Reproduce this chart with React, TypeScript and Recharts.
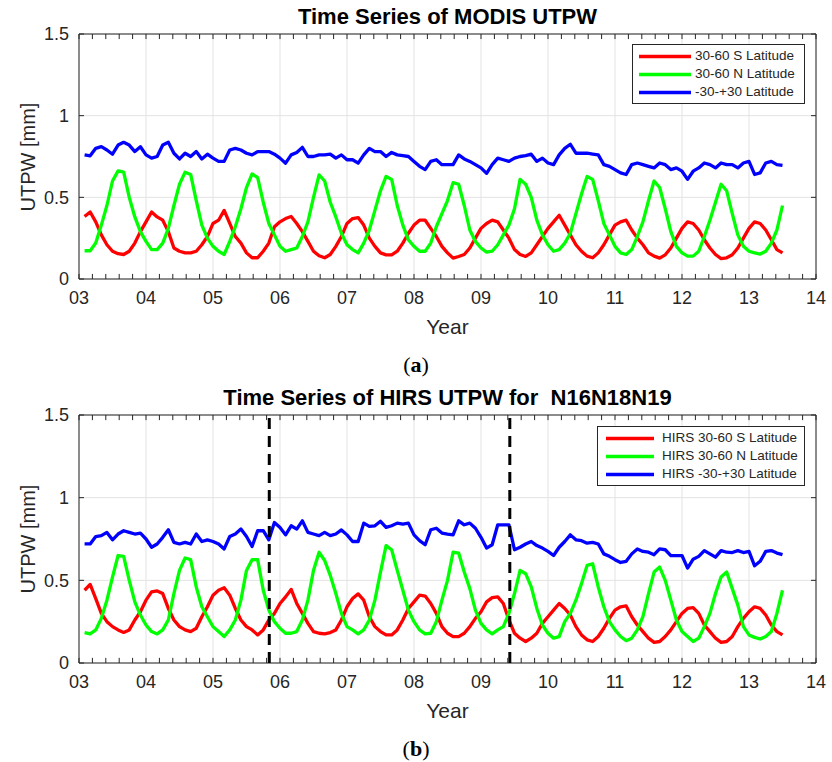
import React from "react";
import { LineChart, Line, XAxis, YAxis, CartesianGrid, ReferenceLine, ReferenceArea } from "recharts";

// monthly means, Feb 2003 .. Jul 2013
const months = Array.from({ length: 126 }, (_, i) => 3 + (i + 1) / 12);
const yearTicks = [3, 4, 5, 6, 7, 8, 9, 10, 11, 12, 13, 14];
const yearLabels = ["03", "04", "05", "06", "07", "08", "09", "10", "11", "12", "13", "14"];
const minorTicks = Array.from({ length: 56 }, (_, i) => 3 + i / 5);
const utpwTicks = [0, 0.5, 1, 1.5];

const modisSouth = [
  0.383, 0.41, 0.35, 0.27, 0.21, 0.17, 0.155, 0.15, 0.17, 0.22, 0.29, 0.35,
  0.41, 0.38, 0.36, 0.29, 0.19, 0.17, 0.16, 0.16, 0.17, 0.21, 0.26, 0.34,
  0.36, 0.42, 0.34, 0.26, 0.22, 0.16, 0.13, 0.13, 0.17, 0.22, 0.32, 0.35,
  0.37, 0.383, 0.34, 0.29, 0.23, 0.17, 0.142, 0.13, 0.15, 0.2, 0.26, 0.34,
  0.37, 0.376, 0.33, 0.25, 0.2, 0.16, 0.148, 0.148, 0.17, 0.22, 0.28, 0.33,
  0.36, 0.36, 0.31, 0.26, 0.2, 0.16, 0.128, 0.138, 0.15, 0.19, 0.25, 0.31,
  0.34, 0.36, 0.35, 0.3, 0.25, 0.18, 0.15, 0.138, 0.16, 0.21, 0.26, 0.31,
  0.35, 0.39, 0.33, 0.27, 0.21, 0.17, 0.14, 0.13, 0.16, 0.21, 0.27, 0.33,
  0.35, 0.36, 0.3, 0.25, 0.21, 0.16, 0.14, 0.128, 0.148, 0.19, 0.25, 0.31,
  0.35, 0.34, 0.3, 0.24, 0.19, 0.15, 0.125, 0.13, 0.148, 0.19, 0.25, 0.31,
  0.35, 0.34, 0.3, 0.24, 0.18, 0.16,
];
const modisNorth = [
  0.173, 0.173, 0.22, 0.33, 0.45, 0.6, 0.662, 0.654, 0.5, 0.38, 0.29, 0.23,
  0.18, 0.18, 0.22, 0.31, 0.45, 0.58, 0.654, 0.64, 0.48, 0.33, 0.25, 0.2,
  0.17, 0.15, 0.23, 0.32, 0.43, 0.56, 0.643, 0.62, 0.47, 0.34, 0.27, 0.2,
  0.17, 0.18, 0.19, 0.26, 0.35, 0.5, 0.637, 0.6, 0.47, 0.38, 0.28, 0.21,
  0.18, 0.16, 0.22, 0.3, 0.42, 0.54, 0.628, 0.61, 0.45, 0.33, 0.24, 0.2,
  0.17, 0.17, 0.22, 0.32, 0.4, 0.48, 0.59, 0.58, 0.45, 0.3, 0.23, 0.19,
  0.165, 0.17, 0.21, 0.27, 0.33, 0.43, 0.61, 0.58, 0.5, 0.36, 0.27, 0.21,
  0.17, 0.18, 0.22, 0.28, 0.4, 0.52, 0.628, 0.61, 0.48, 0.34, 0.27, 0.2,
  0.16, 0.15, 0.18, 0.26, 0.35, 0.48, 0.6, 0.56, 0.43, 0.29, 0.2, 0.16,
  0.14, 0.14, 0.17, 0.26, 0.36, 0.47, 0.58, 0.54, 0.4, 0.27, 0.2, 0.17,
  0.16, 0.153, 0.17, 0.22, 0.3, 0.45,
];
const modisTropics = [
  0.76, 0.754, 0.8, 0.81, 0.79, 0.764, 0.82, 0.837, 0.82, 0.78, 0.81, 0.76,
  0.74, 0.75, 0.82, 0.837, 0.77, 0.735, 0.77, 0.75, 0.78, 0.735, 0.764, 0.74,
  0.72, 0.72, 0.79, 0.8, 0.79, 0.77, 0.76, 0.78, 0.78, 0.78, 0.764, 0.74,
  0.709, 0.76, 0.775, 0.806, 0.75, 0.75, 0.76, 0.76, 0.765, 0.74, 0.76, 0.73,
  0.73, 0.709, 0.76, 0.8, 0.78, 0.78, 0.75, 0.775, 0.76, 0.755, 0.75, 0.72,
  0.69, 0.67, 0.72, 0.73, 0.7, 0.7, 0.7, 0.76, 0.735, 0.72, 0.7, 0.68,
  0.647, 0.7, 0.74, 0.73, 0.72, 0.74, 0.75, 0.755, 0.764, 0.72, 0.74, 0.71,
  0.7, 0.76, 0.8, 0.825, 0.77, 0.77, 0.77, 0.765, 0.76, 0.7, 0.69, 0.67,
  0.65, 0.64, 0.7, 0.71, 0.7, 0.69, 0.68, 0.71, 0.7, 0.67, 0.68, 0.66,
  0.61, 0.66, 0.68, 0.71, 0.7, 0.68, 0.71, 0.7, 0.7, 0.68, 0.71, 0.72,
  0.64, 0.65, 0.71, 0.72, 0.7, 0.695,
];

const hirsSouth = [
  0.44, 0.475, 0.39, 0.3, 0.25, 0.22, 0.2, 0.185, 0.2, 0.26, 0.31, 0.38,
  0.43, 0.436, 0.42, 0.33, 0.26, 0.22, 0.2, 0.19, 0.21, 0.28, 0.34, 0.41,
  0.44, 0.455, 0.41, 0.33, 0.26, 0.22, 0.2, 0.17, 0.2, 0.26, 0.3, 0.36,
  0.4, 0.445, 0.36, 0.3, 0.24, 0.19, 0.18, 0.176, 0.184, 0.2, 0.26, 0.34,
  0.39, 0.418, 0.38, 0.28, 0.22, 0.19, 0.17, 0.17, 0.2, 0.26, 0.33, 0.37,
  0.41, 0.405, 0.36, 0.3, 0.22, 0.18, 0.16, 0.16, 0.18, 0.22, 0.27, 0.31,
  0.37, 0.395, 0.4, 0.36, 0.26, 0.18, 0.15, 0.13, 0.15, 0.18, 0.24, 0.28,
  0.32, 0.36, 0.33, 0.29, 0.22, 0.17, 0.14, 0.13, 0.16, 0.21, 0.27, 0.32,
  0.34, 0.345, 0.28, 0.23, 0.19, 0.15, 0.125, 0.13, 0.16, 0.2, 0.25, 0.3,
  0.33, 0.335, 0.3, 0.23, 0.19, 0.15, 0.125, 0.13, 0.16, 0.22, 0.27, 0.31,
  0.34, 0.33, 0.29, 0.23, 0.19, 0.17,
];
const hirsNorth = [
  0.184, 0.176, 0.2, 0.27, 0.38, 0.52, 0.65, 0.645, 0.5, 0.37, 0.29, 0.23,
  0.19, 0.176, 0.2, 0.26, 0.42, 0.56, 0.635, 0.625, 0.46, 0.34, 0.28, 0.22,
  0.19, 0.16, 0.2, 0.26, 0.38, 0.56, 0.625, 0.625, 0.44, 0.32, 0.25, 0.21,
  0.18, 0.18, 0.19, 0.26, 0.38, 0.56, 0.67, 0.62, 0.53, 0.42, 0.3, 0.22,
  0.2, 0.176, 0.2, 0.26, 0.38, 0.55, 0.71, 0.685, 0.56, 0.44, 0.32, 0.25,
  0.2, 0.176, 0.18, 0.25, 0.38, 0.5, 0.67, 0.665, 0.55, 0.45, 0.32, 0.24,
  0.2, 0.176, 0.2, 0.22, 0.3, 0.42, 0.56, 0.54, 0.46, 0.33, 0.23, 0.18,
  0.15, 0.16, 0.25, 0.3, 0.38, 0.48, 0.59, 0.6, 0.46, 0.34, 0.25, 0.2,
  0.16, 0.135, 0.15, 0.2, 0.28, 0.42, 0.55, 0.58, 0.5, 0.38, 0.26, 0.19,
  0.16, 0.13, 0.15, 0.22, 0.3, 0.42, 0.52, 0.55, 0.45, 0.35, 0.22, 0.17,
  0.155, 0.145, 0.16, 0.19, 0.3, 0.44,
];
const hirsTropics = [
  0.72, 0.72, 0.765, 0.77, 0.79, 0.745, 0.78, 0.8, 0.79, 0.78, 0.785, 0.75,
  0.7, 0.72, 0.76, 0.806, 0.73, 0.72, 0.73, 0.72, 0.78, 0.735, 0.745, 0.735,
  0.72, 0.69, 0.765, 0.78, 0.81, 0.765, 0.705, 0.8, 0.8, 0.745, 0.85, 0.82,
  0.775, 0.83, 0.81, 0.86, 0.79, 0.78, 0.77, 0.79, 0.77, 0.78, 0.805, 0.775,
  0.735, 0.735, 0.846, 0.826, 0.83, 0.857, 0.82, 0.83, 0.846, 0.84, 0.846, 0.775,
  0.74, 0.715, 0.806, 0.815, 0.786, 0.78, 0.775, 0.86, 0.836, 0.846, 0.815, 0.76,
  0.695, 0.715, 0.836, 0.836, 0.836, 0.685, 0.7, 0.72, 0.735, 0.71, 0.695, 0.675,
  0.65, 0.7, 0.735, 0.775, 0.745, 0.74, 0.725, 0.73, 0.72, 0.66, 0.645, 0.625,
  0.608, 0.615, 0.66, 0.69, 0.675, 0.67, 0.655, 0.69, 0.685, 0.65, 0.65, 0.65,
  0.574, 0.628, 0.645, 0.68, 0.66, 0.64, 0.68, 0.67, 0.668, 0.68, 0.668, 0.675,
  0.588, 0.615, 0.675, 0.68, 0.665, 0.655,
];

// satellite changes N16 -> N18 -> N19
const hirsSwitches = [5.84, 9.43];

const INK = "#262626";
const FONT = '"Liberation Sans", Arial, Helvetica, sans-serif';
const W = 832;
const H = 381;
const PLOT_LEFT = 79;
const PLOT_RIGHT = 816;
const TICK_Y = 0.031;
const TICK_X = 0.075;

type Series = { key: string; name: string; color: string; values: number[] };

function rows(series: Series[]) {
  return months.map((t, i) => {
    const r: Record<string, number> = { t };
    series.forEach((s) => (r[s.key] = s.values[i]));
    return r;
  });
}

type PanelProps = {
  top: number;
  plotBottom: number;
  title: string;
  letter: string;
  series: Series[];
  switches: number[];
  legend: { left: number; top: number; width: number; lineX: number; lineW: number; textX: number };
};

function Panel({ top, plotBottom, title, letter, series, switches, legend }: PanelProps) {
  const data = rows(series);
  const tickStyle = { fill: INK, fontSize: 18, fontFamily: FONT };
  return (
    <div style={{ position: "absolute", left: 0, top, width: W, height: H }}>
      <LineChart
        width={W}
        height={H}
        data={data}
        margin={{ top: 34, right: W - PLOT_RIGHT, left: PLOT_LEFT - 60, bottom: H - plotBottom - 40 }}
      >
        <CartesianGrid stroke="#e3e3e3" strokeWidth={1} />
        <XAxis
          dataKey="t"
          type="number"
          domain={[3, 14]}
          ticks={yearTicks}
          interval={0}
          tickFormatter={(v: number) => yearLabels[yearTicks.indexOf(v)]}
          height={40}
          tickSize={0}
          tickMargin={12}
          tickLine={false}
          axisLine={false}
          tick={tickStyle}
        />
        <YAxis
          type="number"
          domain={[0, 1.5]}
          ticks={utpwTicks}
          interval={0}
          width={60}
          tickSize={0}
          tickMargin={10}
          tickLine={false}
          axisLine={false}
          tick={tickStyle}
        />
        {series.map((s) => (
          <Line
            key={s.key}
            dataKey={s.key}
            name={s.name}
            type="linear"
            stroke={s.color}
            strokeWidth={3.3}
            strokeLinejoin="round"
            dot={false}
            isAnimationActive={false}
          />
        ))}
        {switches.map((x) => (
          <ReferenceLine key={x} x={x} stroke="#000" strokeWidth={3} strokeDasharray="11 7" />
        ))}
        {minorTicks.map((t) => (
          <ReferenceLine key={`mb${t}`} segment={[{ x: t, y: 0 }, { x: t, y: TICK_Y }]} stroke={INK} />
        ))}
        {minorTicks.map((t) => (
          <ReferenceLine key={`mt${t}`} segment={[{ x: t, y: 1.5 }, { x: t, y: 1.5 - TICK_Y }]} stroke={INK} />
        ))}
        {utpwTicks.map((v) => (
          <ReferenceLine key={`yl${v}`} segment={[{ x: 3, y: v }, { x: 3 + TICK_X, y: v }]} stroke={INK} />
        ))}
        {utpwTicks.map((v) => (
          <ReferenceLine key={`yr${v}`} segment={[{ x: 14, y: v }, { x: 14 - TICK_X, y: v }]} stroke={INK} />
        ))}
        <ReferenceArea x1={3} x2={14} y1={0} y2={1.5} fill="none" stroke={INK} strokeWidth={1} ifOverflow="visible" />
      </LineChart>

      {/* legend */}
      <div
        style={{
          position: "absolute",
          left: legend.left,
          top: legend.top,
          width: legend.width,
          height: 60,
          border: `1px solid ${INK}`,
          background: "#fff",
          boxSizing: "border-box",
          fontFamily: FONT,
          fontSize: 13.5,
          color: INK,
        }}
      >
        {series.map((s, i) => (
          <div key={s.key} style={{ position: "absolute", left: 0, top: 2 + i * 18, height: 18, width: "100%" }}>
            <svg width={legend.lineX + legend.lineW + 2} height={18} style={{ position: "absolute", left: 0, top: 0 }}>
              <line x1={legend.lineX} x2={legend.lineX + legend.lineW} y1={9.5} y2={9.5} stroke={s.color} strokeWidth={3.3} />
            </svg>
            <span style={{ position: "absolute", left: legend.textX, top: 0, lineHeight: "18px", whiteSpace: "nowrap" }}>
              {s.name}
            </span>
          </div>
        ))}
      </div>

      <div
        style={{
          position: "absolute",
          left: (PLOT_LEFT + PLOT_RIGHT) / 2,
          top: 17,
          transform: "translate(-50%, -50%)",
          fontFamily: FONT,
          fontWeight: "bold",
          fontSize: 22,
          whiteSpace: "pre",
          color: "#000",
        }}
      >
        {title}
      </div>
      <div
        style={{
          position: "absolute",
          left: 28,
          top: (34 + plotBottom) / 2,
          transform: "translate(-50%, -50%) rotate(-90deg)",
          fontFamily: FONT,
          fontSize: 20,
          whiteSpace: "nowrap",
          color: INK,
        }}
      >
        UTPW [mm]
      </div>
      <div
        style={{
          position: "absolute",
          left: (PLOT_LEFT + PLOT_RIGHT) / 2,
          top: plotBottom + 48,
          transform: "translate(-50%, -50%)",
          fontFamily: FONT,
          fontSize: 21,
          color: INK,
        }}
      >
        Year
      </div>
      <div
        style={{
          position: "absolute",
          left: 416,
          top: plotBottom + 86,
          transform: "translate(-50%, -50%)",
          fontFamily: '"Liberation Serif", "DejaVu Serif", serif',
          fontSize: 22,
          color: "#000",
        }}
      >
        (<b>{letter}</b>)
      </div>
    </div>
  );
}

export default function App() {
  const modis: Series[] = [
    { key: "s", name: "30-60 S Latitude", color: "#ff0000", values: modisSouth },
    { key: "n", name: "30-60 N Latitude", color: "#00ff00", values: modisNorth },
    { key: "eq", name: "-30-+30 Latitude", color: "#0000ff", values: modisTropics },
  ];
  const hirs: Series[] = [
    { key: "s", name: "HIRS 30-60 S Latitude", color: "#ff0000", values: hirsSouth },
    { key: "n", name: "HIRS 30-60 N Latitude", color: "#00ff00", values: hirsNorth },
    { key: "eq", name: "HIRS -30-+30 Latitude", color: "#0000ff", values: hirsTropics },
  ];
  return (
    <div style={{ position: "absolute", left: 0, top: 0, width: W, height: 762, background: "#fff", overflow: "hidden" }}>
      <Panel
        top={0}
        plotBottom={279}
        title="Time Series of MODIS UTPW"
        letter="a"
        series={modis}
        switches={[]}
        legend={{ left: 632, top: 44, width: 173, lineX: 6, lineW: 52, textX: 62 }}
      />
      <Panel
        top={381}
        plotBottom={282}
        title="Time Series of HIRS UTPW for  N16N18N19"
        letter="b"
        series={hirs}
        switches={hirsSwitches}
        legend={{ left: 597, top: 45, width: 208, lineX: 8, lineW: 48, textX: 64 }}
      />
    </div>
  );
}
